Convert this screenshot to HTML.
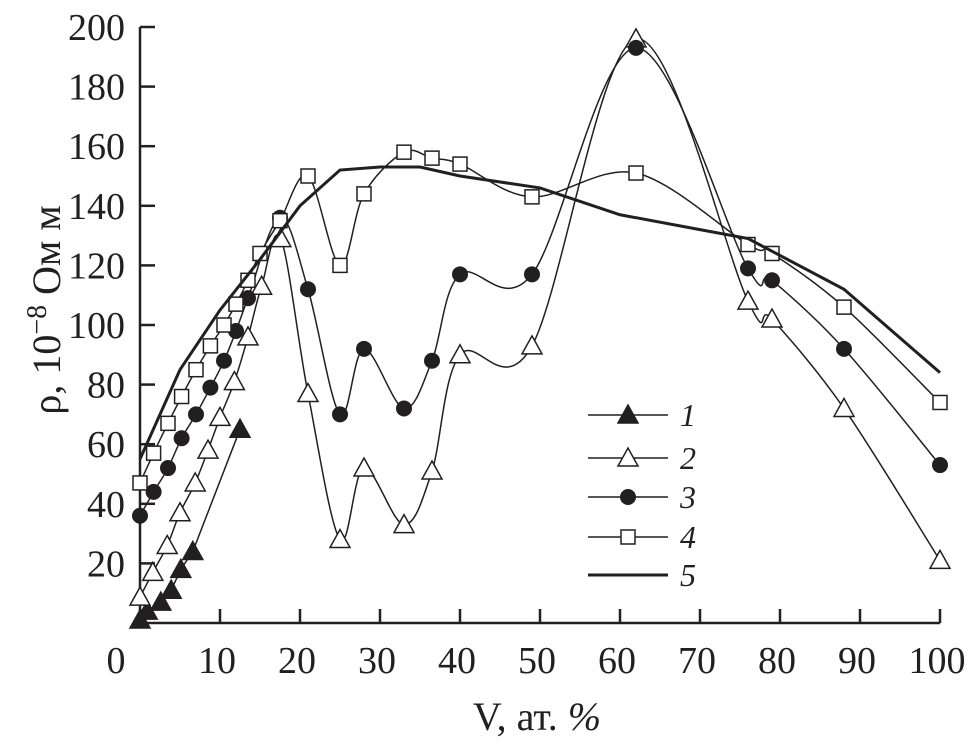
<!DOCTYPE html>
<html><head><meta charset="utf-8"><style>
body{margin:0;background:#fff}
svg text{font-family:"Liberation Serif",serif;fill:#231f20}
</style></head><body>
<svg id="chart" width="971" height="740" viewBox="0 0 971 740" xmlns="http://www.w3.org/2000/svg"></svg>
<script>
const xTicks=[0,10,20,30,40,50,60,70,80,90,100];
const yTicks=[20,40,60,80,100,120,140,160,180,200];
const s1x=[0,0.9,2.6,3.9,5.1,6.6,12.5];
const s1y=[1,4,7,11,18,24,65];
const s2x=[0,1.6,3.4,5,6.9,8.5,10,11.8,13.5,15.2,17.6,21,25,28,33,36.5,40,49,62,76,79,88,100];
const s2y=[8.7,17,26,37,47,58,69,81,96,113,129,77,28,52,33,51,90,93,196,108,102,72,21];
const s3x=[0,1.7,3.5,5.2,7,8.8,10.5,12,13.5,17.5,21,25,28,33,36.5,40,49,62,76,79,88,100];
const s3y=[36,44,52,62,70,79,88,98,109,136,112,70,92,72,88,117,117,193,119,115,92,53];
const s4x=[0,1.7,3.5,5.2,7,8.8,10.5,12,13.5,15,17.5,21,25,28,33,36.5,40,49,62,76,79,88,100];
const s4y=[47,57,67,76,85,93,100,107,115,124,135,150,120,144,158,156,154,143,151,127,124,106,74];
const s5x=[0,5,10,15,20,25,30,35,40,50,60,70,76,88,100];
const s5y=[55,85,105,122,140,152,153,153,150,146,137,132,129,112,84];
const legendLabels=["1","2","3","4","5"];

const svg=document.getElementById('chart');
const NS="http://www.w3.org/2000/svg";
const X=v=>140+v*8, Y=v=>623-v*2.98;
function mk(t,a,p){const e=document.createElementNS(NS,t);for(const k in a)e.setAttribute(k,a[k]);(p||svg).appendChild(e);return e;}
const ax=mk('path',{d:`M${X(0)},${Y(200)} L${X(0)},${Y(0)} L${X(100)},${Y(0)}`,fill:'none',stroke:'#231f20','stroke-width':2.5});


xTicks.forEach(t=>{
 const l=mk('line',{x1:X(t),x2:X(t),y1:Y(0),y2:Y(0)-14,stroke:'#231f20','stroke-width':2.5});
 
 
 const tx=mk('text',{x:t===0?116:X(t)-3,y:673,'font-size':38,'text-anchor':'middle'});tx.textContent=t;
 
 
});
yTicks.forEach(t=>{
 const l=mk('line',{x1:X(0),x2:X(0)+15,y1:Y(t),y2:Y(t),stroke:'#231f20','stroke-width':2.5});
 
 
 const tx=mk('text',{x:125,y:Y(t)+13,'font-size':38,'text-anchor':'end'});tx.textContent=t;
 
 
});
const xt=mk('text',{x:537,y:730,'font-size':40,'text-anchor':'middle'});xt.innerHTML='V, ат. <tspan font-style="italic">%</tspan>';


const yt=mk('text',{x:0,y:0,'font-size':40,'text-anchor':'middle',transform:'translate(60,310) rotate(-90)'});
yt.innerHTML='ρ, 10<tspan dy="-14" font-size="28">−8</tspan><tspan dy="14"> Ом м</tspan>';



function smooth(px,py){
 let d=`M${px[0]},${py[0]}`;
 for(let i=0;i<px.length-1;i++){
  const p0=i?i-1:i,p3=i+2<px.length?i+2:i+1;
  const c1x=px[i]+(px[i+1]-px[p0])/6,c1y=py[i]+(py[i+1]-py[p0])/6;
  const c2x=px[i+1]-(px[p3]-px[i])/6,c2y=py[i+1]-(py[p3]-py[i])/6;
  d+=` C${c1x},${c1y} ${c2x},${c2y} ${px[i+1]},${py[i+1]}`;
 }
 return d;
}
function marker(type,x,y,g){
 if(type==='tri'||type==='otri'){
  return mk('path',{d:`M${x},${y-10} L${x+10},${y+8} L${x-10},${y+8}Z`,fill:type==='tri'?'#231f20':'#fff',stroke:'#231f20','stroke-width':1.5},g);
 }
 if(type==='circ') return mk('circle',{cx:x,cy:y,r:8,fill:'#231f20'},g);
 if(type==='sq') return mk('rect',{x:x-7,y:y-7,width:14,height:14,fill:'#fff',stroke:'#231f20','stroke-width':1.5},g);
}
const series=[[s1x,s1y,'tri','series-1',false],[s2x,s2y,'otri','series-2',true],[s3x,s3y,'circ','series-3',true],[s4x,s4y,'sq','series-4',true],[s5x,s5y,null,'series-5',false]];
series.forEach(([xs,ys,m,name,sm])=>{
 const g=mk('g',{});
 
 
 const px=xs.map(X),py=ys.map(Y);
 const d=sm?smooth(px,py):'M'+px.map((v,i)=>v+','+py[i]).join(' L');
 mk('path',{d,fill:'none',stroke:'#231f20','stroke-width':m?1.5:3},g);
 if(m)px.forEach((v,i)=>{const e=marker(m,v,py[i],g);
  
  });
});
const types=['tri','otri','circ','sq',null];
const lg=mk('g',{});


legendLabels.forEach((lab,i)=>{
 const y=[415,458,497,537,575][i];
 const g=mk('g',{},lg);
 
 
 mk('line',{x1:588,x2:668,y1:y,y2:y,stroke:'#231f20','stroke-width':types[i]?1.5:3},g);
 if(types[i])marker(types[i],628,y,g);
 const t=mk('text',{x:680,y:y+11,'font-size':32,'font-style':'italic'},g);t.textContent=lab;
});
</script>
</body></html>
